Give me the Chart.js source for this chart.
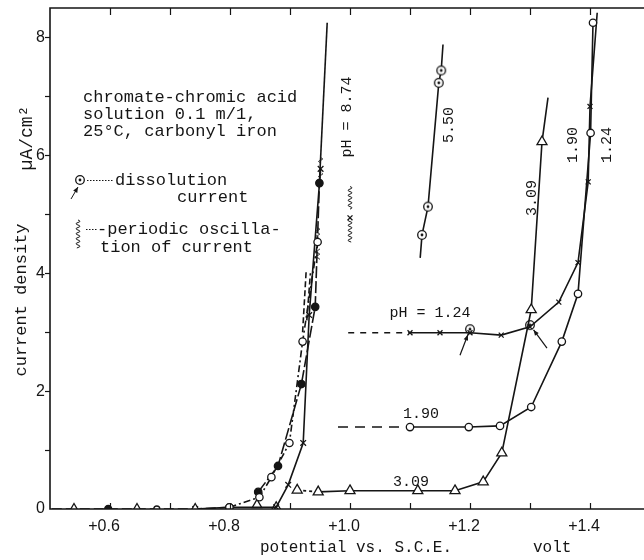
<!DOCTYPE html>
<html>
<head>
<meta charset="utf-8">
<script src="https://cdn.jsdelivr.net/npm/chart.js@4.4.1/dist/chart.umd.min.js"></script>
<style>
html, body { margin: 0; padding: 0; background: #fff; }
#wrap { width: 644px; height: 560px; }
</style>
</head>
<body>
<div id="wrap"><canvas id="chart" width="644" height="560"></canvas></div>
<script>
// potentials (volt vs. S.C.E.) and current density (uA/cm2)

// pH 8.74 - flat start along the axis
const baseX = [0.503, 0.540, 0.597, 0.645, 0.678, 0.742, 0.799];
const baseY = [0, 0, 0, 0, 0, 0, 0.03];
// pH 8.74 - open circles
const ph874OpenX = [0.799, 0.849, 0.869, 0.899, 0.921, 0.946];
const ph874OpenY = [0.03, 0.20, 0.54, 1.12, 2.84, 4.53];
// pH 8.74 - filled circles
const ph874DotX = [0.847, 0.880, 0.919, 0.942, 0.949];
const ph874DotY = [0.29, 0.73, 2.12, 3.43, 5.53];
// pH 8.74 - crosses
const ph874CrossX = [0.742, 0.799, 0.877, 0.897, 0.922, 0.932, 0.951];
const ph874CrossY = [0, 0.03, 0.03, 0.41, 1.12, 3.29, 5.77];
// pH 8.74 - upper branch
const ph874TopX = [0.949, 0.962];
const ph874TopY = [5.53, 8.25];
// pH 8.74 - oscillating branches (dashed)
const oscAX = [0.921, 0.927];
const oscAY = [3.0, 4.05];
const oscBX = [0.928, 0.934];
const oscBY = [3.2, 4.0];
// low triangles near the rise
const lowTriX = [0.845, 0.877];
const lowTriY = [0.07, 0.03];

// pH 3.09 - triangles
const ph309X = [0.912, 0.947, 1.000, 1.113, 1.175, 1.222, 1.253, 1.302, 1.320, 1.330];
const ph309Y = [0.32, 0.29, 0.31, 0.31, 0.31, 0.46, 0.95, 3.38, 6.23, 6.98];
// pH 1.90 - open circles
const ph190X = [0.980, 1.100, 1.198, 1.250, 1.302, 1.353, 1.380, 1.401, 1.405];
const ph190Y = [1.39, 1.39, 1.39, 1.41, 1.73, 2.84, 3.65, 6.38, 8.25];
// pH 1.24 - crosses
const ph124X = [0.997, 1.100, 1.150, 1.200, 1.252, 1.300, 1.348, 1.380, 1.397, 1.400, 1.412];
const ph124Y = [2.99, 2.99, 2.99, 2.99, 2.95, 3.09, 3.51, 4.18, 5.55, 6.83, 8.42];
// pH 5.50 - dissolution current points
const ph550X = [1.117, 1.120, 1.130, 1.148, 1.152, 1.155];
const ph550Y = [4.26, 4.65, 5.13, 7.23, 7.44, 7.88];
// dissolution current markers on pH 1.24
const dissX = [1.200, 1.300];
const dissY = [3.05, 3.12];
// periodic oscillation cross
const oscCrossX = [1.000];
const oscCrossY = [4.94];
// wavy oscillation marks: x, top, bottom (data units)
const wavyX = [1.000, 0.946, 0.951];
const wavyTop = [5.47, 4.77, 5.96];
const wavyBottom = [4.52, 4.23, 5.62];

const xLabelTicks = [0.6, 0.8, 1.0, 1.2, 1.4];
const xMinorTicks = [0.6, 0.7, 0.8, 0.9, 1.0, 1.1, 1.2, 1.3, 1.4];
const yLabelTicks = [0, 2, 4, 6, 8];
const yMinorTicks = [1, 2, 3, 4, 5, 6, 7, 8];

const ink = '#151515';
const mono = '"Liberation Mono", "DejaVu Sans Mono", monospace';
const sans = '"Liberation Sans", Arial, sans-serif';

const pts = (xs, ys) => xs.map((x, i) => ({ x, y: ys[i] }));

// circle with a dot (dissolution current)
const dotCircle = (() => {
	const c = document.createElement('canvas');
	c.width = 12; c.height = 12;
	const g = c.getContext('2d');
	g.fillStyle = '#fff';
	g.strokeStyle = ink;
	g.lineWidth = 1.3;
	g.beginPath(); g.arc(6, 6, 4.3, 0, Math.PI * 2); g.fill(); g.stroke();
	g.fillStyle = ink;
	g.beginPath(); g.arc(6, 6, 1.4, 0, Math.PI * 2); g.fill();
	return c;
})();

// radius per point, hiding first / last if needed
const radii = (n, r, hideFirst, hideLast) => Array.from({ length: n }, (_, i) =>
	(hideFirst && i === 0) || (hideLast && i === n - 1) ? 0 : r);

const line = (xs, ys, extra) => ({
	data: pts(xs, ys),
	showLine: true,
	borderColor: ink,
	borderWidth: 1.6,
	pointStyle: 'circle',
	pointRadius: 3.7,
	pointBackgroundColor: '#fff',
	pointBorderColor: ink,
	pointBorderWidth: 1.3,
	...extra,
});

const dashedAt = (idx, dash) => ({
	borderDash: (ctx) => idx.includes(ctx.p0DataIndex) ? dash : undefined,
});

const datasets = [
	line(baseX, baseY, {
		borderDash: [10, 4],
		pointStyle: ['circle', 'triangle', 'circle', 'triangle', 'circle', 'triangle', 'circle'],
		pointRadius: [0, 5.5, 3.5, 5.5, 3, 5.5, 3.7],
		pointBackgroundColor: ['#fff', '#fff', ink, '#fff', '#fff', '#fff', '#fff'],
	}),
	line(ph874OpenX, ph874OpenY, { borderDash: [7, 3, 2, 3] }),
	line(ph874DotX, ph874DotY, { borderDash: [12, 3], pointBackgroundColor: ink }),
	line(ph874CrossX, ph874CrossY, { pointStyle: 'crossRot', pointRadius: 4 }),
	line(ph874TopX, ph874TopY, { pointRadius: 0 }),
	line(oscAX, oscAY, { pointRadius: 0, borderDash: [6, 3] }),
	line(oscBX, oscBY, { pointRadius: 0, borderDash: [6, 3] }),
	line(lowTriX, lowTriY, { showLine: false, pointStyle: 'triangle', pointRadius: 5.5 }),
	line(ph309X, ph309Y, {
		pointStyle: 'triangle',
		pointRadius: radii(ph309X.length, 5.8, false, true),
		segment: dashedAt([0], [3, 3]),
	}),
	line(ph190X, ph190Y, {
		pointRadius: radii(ph190X.length, 3.7, true, false),
		segment: dashedAt([0], [10, 7]),
	}),
	line(ph124X, ph124Y, {
		pointStyle: 'crossRot',
		pointRadius: radii(ph124X.length, 3.5, true, true),
		segment: dashedAt([0], [6, 6]),
	}),
	line(ph550X, ph550Y, {
		pointStyle: dotCircle,
		pointRadius: radii(ph550X.length, 5, true, true),
	}),
	line(dissX, dissY, { showLine: false, pointStyle: dotCircle, pointRadius: 5 }),
	line(oscCrossX, oscCrossY, { showLine: false, pointStyle: 'crossRot', pointRadius: 3.5 }),
];

const arrow = (g, x1, y1, x2, y2) => {
	const a = Math.atan2(y2 - y1, x2 - x1);
	g.beginPath();
	g.moveTo(x1, y1); g.lineTo(x2, y2);
	g.stroke();
	g.beginPath();
	g.moveTo(x2, y2);
	g.lineTo(x2 - 6 * Math.cos(a - 0.4), y2 - 6 * Math.sin(a - 0.4));
	g.lineTo(x2 - 6 * Math.cos(a + 0.4), y2 - 6 * Math.sin(a + 0.4));
	g.closePath();
	g.fill();
};

const wavy = (g, x, y1, y2, skip) => {
	g.beginPath();
	let first = true;
	for (let y = y1; y <= y2; y += 0.5) {
		if (skip && y > skip[0] && y < skip[1]) { first = true; continue; }
		const px = x + 2 * Math.sin((y - y1) / 5 * Math.PI * 2);
		if (first) { g.moveTo(px, y); first = false; } else g.lineTo(px, y);
	}
	g.stroke();
};

const text = (g, str, x, y, size, align = 'left') => {
	g.font = `${size}px ${mono}`;
	g.textAlign = align;
	g.textBaseline = 'middle';
	g.fillText(str, x, y);
};

const vtext = (g, str, cx, cy, size) => {
	g.save();
	g.translate(cx, cy);
	g.rotate(-Math.PI / 2);
	text(g, str, 0, 0, size, 'center');
	g.restore();
};

const decor = {
	id: 'decor',
	afterDraw(chart) {
		const g = chart.ctx;
		const { left, right, top, bottom } = chart.chartArea;
		const xs = chart.scales.x, ys = chart.scales.y;
		g.save();
		g.strokeStyle = ink;
		g.fillStyle = ink;
		g.lineWidth = 1.6;

		// frame: left, bottom, top
		g.beginPath();
		g.moveTo(644, top); g.lineTo(left, top); g.lineTo(left, bottom); g.lineTo(644, bottom);
		g.stroke();

		g.lineWidth = 1.2;
		xMinorTicks.forEach((v) => {
			const px = Math.round(xs.getPixelForValue(v)) + 0.5;
			g.beginPath();
			g.moveTo(px, bottom); g.lineTo(px, bottom - 6);
			g.moveTo(px, top); g.lineTo(px, top + 7);
			g.stroke();
		});
		yMinorTicks.forEach((v) => {
			const py = Math.round(ys.getPixelForValue(v)) + 0.5;
			g.beginPath();
			g.moveTo(left, py); g.lineTo(left - 5, py);
			g.stroke();
		});

		// axis titles
		text(g, 'potential vs. S.C.E.', 260, 548, 16);
		text(g, 'volt', 533, 548, 16);
		vtext(g, 'current density', 21, 300, 17);
		vtext(g, 'µA/cm²', 27, 138, 18);

		// legend block
		text(g, 'chromate-chromic acid', 83, 97, 17);
		text(g, 'solution 0.1 m/1,', 83, 114, 17);
		text(g, '25°C, carbonyl iron', 83, 131, 17);
		g.drawImage(dotCircle, 74, 174);
		g.lineWidth = 1;
		g.setLineDash([1.5, 1.5]);
		g.beginPath(); g.moveTo(87, 180.5); g.lineTo(114, 180.5); g.stroke();
		g.beginPath(); g.moveTo(86, 229.5); g.lineTo(97, 229.5); g.stroke();
		g.setLineDash([]);
		text(g, 'dissolution', 115, 180, 17);
		text(g, 'current', 177, 197, 17);
		arrow(g, 71, 199, 78, 187);
		wavy(g, 78, 220, 248);
		text(g, '-periodic oscilla-', 97, 229, 17);
		text(g, 'tion of current', 100, 247, 17);

		// curve labels
		vtext(g, 'pH = 8.74', 347, 117, 15);
		vtext(g, '5.50', 449, 125, 15);
		vtext(g, '3.09', 532, 198, 15);
		vtext(g, '1.90', 573, 145, 15);
		vtext(g, '1.24', 607, 145, 15);
		text(g, 'pH = 1.24', 430, 313, 15, 'center');
		text(g, '1.90', 421, 414, 15, 'center');
		text(g, '3.09', 411, 482, 15, 'center');

		// wavy oscillation marks around markers
		g.lineWidth = 1;
		wavyX.forEach((v, i) => {
			const px = xs.getPixelForValue(v);
			const y1 = ys.getPixelForValue(wavyTop[i]);
			const y2 = ys.getPixelForValue(wavyBottom[i]);
			const mid = (y1 + y2) / 2;
			wavy(g, px, y1, y2, [mid - 5, mid + 5]);
		});

		// arrows pointing at the dissolution markers
		g.lineWidth = 1.2;
		const offs = [[-10, 26], [17, 23]];
		dissX.forEach((v, i) => {
			const px = xs.getPixelForValue(v);
			const py = ys.getPixelForValue(dissY[i]);
			const dx = offs[i][0], dy = offs[i][1];
			const len = Math.hypot(dx, dy);
			arrow(g, px + dx, py + dy, px + dx * 6 / len, py + dy * 6 / len);
		});
		g.restore();
	},
};

const noPad = (s) => {
	s.paddingLeft = 0; s.paddingRight = 0; s.paddingTop = 0; s.paddingBottom = 0;
};

new Chart(document.getElementById('chart'), {
	type: 'scatter',
	data: { datasets },
	options: {
		responsive: false,
		animation: false,
		devicePixelRatio: 1,
		layout: { autoPadding: false, padding: { top: 8, right: 0, left: 0, bottom: 0 } },
		plugins: { legend: { display: false }, tooltip: { enabled: false } },
		scales: {
			x: {
				type: 'linear',
				min: 0.5,
				max: 1.49,
				afterBuildTicks: (s) => { s.ticks = xLabelTicks.map((v) => ({ value: v })); },
				afterFit: (s) => { s.height = 51; noPad(s); },
				grid: { display: false, drawTicks: false },
				border: { display: false },
				ticks: {
					callback: (v) => '+' + Number(v).toFixed(1),
					font: { family: sans, size: 16 },
					color: ink,
					padding: 8,
					labelOffset: -6,
					maxRotation: 0,
					autoSkip: false,
				},
			},
			y: {
				min: 0,
				max: 8.5,
				afterBuildTicks: (s) => { s.ticks = yLabelTicks.map((v) => ({ value: v })); },
				afterFit: (s) => { s.width = 50; noPad(s); },
				grid: { display: false, drawTicks: false },
				border: { display: false },
				ticks: {
					font: { family: sans, size: 16 },
					color: ink,
					padding: 5,
				},
			},
		},
	},
	plugins: [decor],
});
</script>
</body>
</html>
